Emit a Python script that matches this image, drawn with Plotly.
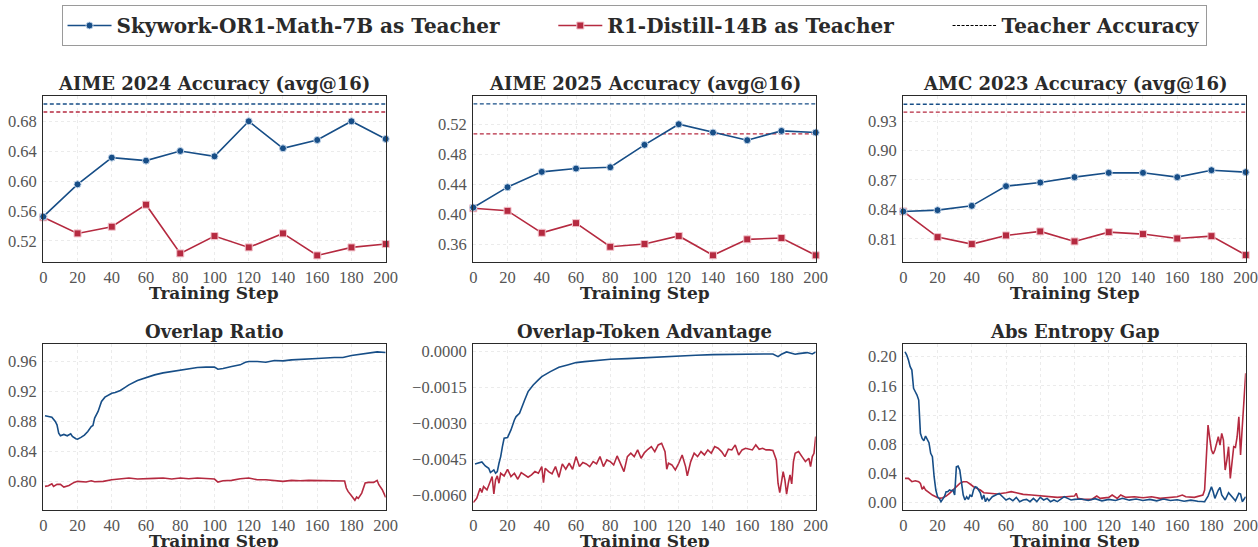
import plotly.graph_objects as go

# ---------------- data ----------------
acc_steps = [0, 20, 40, 60, 80, 100, 120, 140, 160, 180, 200]

aime24_sky = [0.5525, 0.5957, 0.6314, 0.6274, 0.6403, 0.6332, 0.6800, 0.6439, 0.6550, 0.6800, 0.6564]
aime24_r1 = [0.5516, 0.5301, 0.5391, 0.5685, 0.5034, 0.5266, 0.5114, 0.5301, 0.5007, 0.5114, 0.5159]
aime24_teacher = [0.7031, 0.6924]

aime25_sky = [0.4090, 0.4361, 0.4565, 0.4609, 0.4627, 0.4925, 0.5200, 0.5089, 0.4987, 0.5111, 0.5089]
aime25_r1 = [0.4080, 0.4046, 0.3753, 0.3882, 0.3567, 0.3604, 0.3711, 0.3453, 0.3666, 0.3684, 0.3453]
aime25_teacher = [0.5471, 0.5071]

amc23_sky = [0.8379, 0.8392, 0.8436, 0.8637, 0.8674, 0.8729, 0.8773, 0.8773, 0.8729, 0.8800, 0.8780]
amc23_r1 = [0.8379, 0.8117, 0.8046, 0.8134, 0.8175, 0.8073, 0.8168, 0.8148, 0.8103, 0.8127, 0.7934]
amc23_teacher = [0.9473, 0.9392]

ov_sky_steps = [1, 3, 5, 7, 8, 9, 10, 12, 14, 16, 17, 19, 20, 22, 24, 26, 28, 29, 30, 32, 34, 36, 38, 40,
                42, 45, 48, 50, 55, 60, 65, 70, 75, 80, 85, 90, 95, 100, 102, 105, 110, 115, 118, 120,
                125, 130, 135, 140, 145, 150, 160, 170, 175, 180, 185, 190, 195, 200]
ov_sky = [0.8876, 0.8867, 0.8858, 0.8801, 0.8756, 0.8645, 0.8610, 0.8628, 0.8610, 0.8637, 0.8601, 0.8570,
          0.8565, 0.8588, 0.8619, 0.8668, 0.8734, 0.8748, 0.8845, 0.8934, 0.9067, 0.9125, 0.9156, 0.9178,
          0.9187, 0.9214, 0.9258, 0.9289, 0.9347, 0.9387, 0.9422, 0.9449, 0.9467, 0.9489, 0.9502, 0.9520,
          0.9525, 0.9525, 0.9498, 0.9507, 0.9533, 0.9556, 0.9591, 0.9600, 0.9600, 0.9591, 0.9613, 0.9609,
          0.9622, 0.9631, 0.9640, 0.9653, 0.9653, 0.9680, 0.9693, 0.9711, 0.9729, 0.9720]

ov_r1_steps = [1, 3, 5, 6, 8, 10, 12, 15, 18, 20, 25, 28, 30, 35, 40, 45, 50, 55, 60, 65, 70, 75, 80, 85,
               90, 95, 100, 102, 105, 110, 115, 120, 125, 130, 135, 140, 145, 150, 155, 160, 165, 170,
               176, 177, 178, 180, 182, 183, 184, 186, 188, 190, 193, 195, 196, 198, 200]
ov_r1 = [0.7935, 0.7944, 0.7970, 0.7935, 0.7962, 0.7962, 0.7926, 0.7948, 0.7988, 0.8002, 0.7993, 0.8010,
         0.7997, 0.8002, 0.8024, 0.8033, 0.8046, 0.8033, 0.8033, 0.8042, 0.8046, 0.8033, 0.8046, 0.8037,
         0.8046, 0.8037, 0.8033, 0.7993, 0.8010, 0.8015, 0.8037, 0.8046, 0.8024, 0.8024, 0.8010, 0.8002,
         0.8015, 0.8010, 0.8015, 0.8015, 0.8006, 0.8006, 0.8006, 0.7913, 0.7868, 0.7811, 0.7749, 0.7793,
         0.7775, 0.7846, 0.7980, 0.7988, 0.7988, 0.8015, 0.7957, 0.7891, 0.7788]

adv_sky_steps = [1, 3, 5, 7, 9, 10, 12, 13, 14, 15, 16, 17, 18, 20, 22, 24, 25, 27, 28, 30, 32, 35, 38, 40,
                 45, 50, 55, 60, 65, 70, 80, 90, 100, 110, 120, 130, 140, 150, 160, 170, 175, 178, 180,
                 183, 185, 188, 190, 195, 198, 200]
adv_sky = [-0.004684, -0.004656, -0.004601, -0.004767, -0.004864, -0.005044, -0.004933, -0.005072,
           -0.005002, -0.004656, -0.004379, -0.003963, -0.003617, -0.003589, -0.003270, -0.002855,
           -0.002716, -0.002577, -0.002370, -0.002023, -0.001677, -0.001400, -0.001192, -0.001053,
           -0.000845, -0.000665, -0.000568, -0.000471, -0.000430, -0.000388, -0.000333, -0.000305,
           -0.000263, -0.000222, -0.000194, -0.000166, -0.000139, -0.000125, -0.000125, -0.000111,
           -0.000111, -0.000222, -0.000125, -0.000028, -0.000055, -0.000125, -0.000097, -0.000055,
           -0.000111, -0.000028]

adv_r1_steps = [0, 2, 3, 4, 5, 6, 8, 10, 11, 12, 13, 14, 15, 16, 18, 20, 22, 24, 26, 28, 30, 32, 34, 36,
                38, 40, 41, 42, 44, 46, 48, 50, 52, 54, 56, 58, 60, 62, 64, 66, 68, 70, 72, 74, 76, 78,
                80, 82, 84, 86, 88, 90, 92, 94, 96, 98, 100, 102, 104, 106, 108, 110, 112, 113, 114, 116,
                118, 120, 122, 124, 125, 127, 129, 131, 133, 135, 137, 139, 141, 143, 145, 147, 149, 151,
                153, 155, 157, 159, 161, 163, 165, 167, 169, 171, 173, 175, 177, 178, 179, 180, 181, 182,
                183, 184, 185, 186, 187, 188, 190, 192, 194, 196, 197, 198, 199, 200]
adv_r1 = [-0.006291, -0.006111, -0.005903, -0.005695, -0.005875, -0.005626, -0.005765, -0.005418,
          -0.005210, -0.005931, -0.005349, -0.005183, -0.005487, -0.005072, -0.005183, -0.004905,
          -0.005210, -0.005072, -0.005321, -0.005044, -0.005141, -0.005238, -0.005141, -0.005002,
          -0.005072, -0.004795, -0.005460, -0.004864, -0.005002, -0.005099, -0.004795, -0.005238,
          -0.004684, -0.004905, -0.004656, -0.004905, -0.004379, -0.004795, -0.004628, -0.004684,
          -0.004795, -0.004587, -0.004684, -0.004379, -0.004795, -0.004517, -0.004587, -0.004725,
          -0.004351, -0.004656, -0.005002, -0.004379, -0.004240, -0.004379, -0.004102, -0.004448,
          -0.004213, -0.004074, -0.003963, -0.004171, -0.003894, -0.003825, -0.004171, -0.004905,
          -0.004656, -0.004725, -0.004933, -0.004656, -0.004310, -0.004795, -0.005183, -0.004587,
          -0.004240, -0.004379, -0.004171, -0.004310, -0.004102, -0.004240, -0.003963, -0.004032,
          -0.004171, -0.004379, -0.004074, -0.004102, -0.003894, -0.004310, -0.004102, -0.004032,
          -0.004074, -0.004102, -0.003894, -0.004074, -0.004032, -0.004102, -0.004102, -0.004129,
          -0.004517, -0.005487, -0.005875, -0.005487, -0.005002, -0.005349, -0.005945, -0.005487,
          -0.005141, -0.005515, -0.004587, -0.004240, -0.004171, -0.004379, -0.004587, -0.004448,
          -0.004795, -0.004379, -0.004240, -0.003547]

ent_sky_steps = [1, 2, 3, 4, 5, 6, 7, 8, 9, 10, 11, 12, 13, 14, 15, 16, 17, 18, 19, 20, 21, 22, 23, 24,
                 25, 26, 27, 28, 29, 30, 31, 32, 33, 34, 35, 36, 37, 38, 39, 40, 41, 42, 43, 44, 45, 46,
                 47, 48, 49, 50, 52, 54, 56, 58, 60, 62, 64, 66, 68, 70, 72, 74, 76, 78, 80, 82, 84, 86,
                 88, 90, 92, 94, 96, 98, 100, 104, 108, 112, 116, 120, 124, 128, 132, 136, 140, 144, 148,
                 152, 156, 160, 164, 168, 172, 176, 178, 180, 181, 182, 184, 185, 186, 188, 190, 192, 194,
                 196, 197, 198, 199, 200]
ent_sky = [0.2068, 0.2023, 0.1954, 0.1863, 0.1817, 0.1566, 0.1520, 0.1475, 0.1406, 0.0950, 0.0881, 0.0849,
           0.0913, 0.0858, 0.0822, 0.0676, 0.0630, 0.0356, 0.0174, 0.0082, 0.0059, 0.0014, 0.0046, 0.0082,
           0.0151, 0.0151, 0.0174, 0.0164, 0.0174, 0.0105, 0.0493, 0.0502, 0.0447, 0.0242, 0.0105, 0.0037,
           0.0082, 0.0046, 0.0105, 0.0082, 0.0174, 0.0219, 0.0210, 0.0174, 0.0137, 0.0046, 0.0105, 0.0014,
           0.0059, 0.0027, 0.0082, 0.0105, 0.0128, 0.0082, 0.0037, 0.0059, 0.0027, 0.0073, 0.0014, 0.0037,
           0.0046, 0.0014, 0.0059, 0.0014, 0.0073, 0.0037, 0.0059, 0.0014, 0.0037, 0.0014, 0.0046, 0.0082,
           0.0059, 0.0037, 0.0046, 0.0050, 0.0030, 0.0055, 0.0025, 0.0045, 0.0030, 0.0060, 0.0035, 0.0050,
           0.0030, 0.0045, 0.0025, 0.0050, 0.0030, 0.0040, 0.0020, 0.0035, 0.0020, 0.0014, 0.0091, 0.0219,
           0.0151, 0.0059, 0.0174, 0.0210, 0.0105, 0.0037, 0.0137, 0.0082, 0.0027, 0.0128, 0.0119, 0.0014,
           0.0059, 0.0082]

ent_r1_steps = [1, 3, 5, 7, 9, 10, 11, 12, 13, 15, 17, 19, 21, 23, 25, 27, 29, 31, 33, 35, 37, 39, 41, 43,
                45, 47, 50, 55, 60, 63, 66, 70, 75, 80, 85, 90, 95, 100, 101, 102, 105, 110, 113, 115,
                120, 122, 125, 127, 130, 135, 140, 145, 150, 155, 160, 163, 165, 170, 174, 175, 176, 177,
                178, 179, 180, 181, 182, 183, 184, 185, 186, 187, 188, 189, 190, 191, 192, 193, 194, 195,
                196, 197, 198, 199, 200]
ent_r1 = [0.0333, 0.0333, 0.0288, 0.0301, 0.0288, 0.0265, 0.0183, 0.0219, 0.0174, 0.0137, 0.0105, 0.0082,
          0.0059, 0.0068, 0.0091, 0.0128, 0.0174, 0.0219, 0.0265, 0.0288, 0.0288, 0.0256, 0.0219, 0.0196,
          0.0174, 0.0137, 0.0128, 0.0119, 0.0137, 0.0151, 0.0137, 0.0114, 0.0105, 0.0096, 0.0082, 0.0073,
          0.0082, 0.0091, 0.0128, 0.0059, 0.0046, 0.0046, 0.0091, 0.0059, 0.0073, 0.0105, 0.0059, 0.0105,
          0.0073, 0.0082, 0.0068, 0.0082, 0.0059, 0.0073, 0.0082, 0.0105, 0.0082, 0.0073, 0.0091, 0.0105,
          0.0174, 0.0721, 0.1064, 0.0881, 0.0721, 0.0667, 0.0721, 0.0813, 0.0904, 0.0790, 0.0950, 0.0858,
          0.0447, 0.0584, 0.0767, 0.0333, 0.0539, 0.0767, 0.0758, 0.0904, 0.1178, 0.0653, 0.1041, 0.1498,
          0.1772]

titles = ["AIME 2024 Accuracy (avg@16)", "AIME 2025 Accuracy (avg@16)", "AMC 2023 Accuracy (avg@16)",
          "Overlap Ratio", "Overlap-Token Advantage", "Abs Entropy Gap"]
x_title = "Training Step"
x_ticks = [0, 20, 40, 60, 80, 100, 120, 140, 160, 180, 200]
legend_names = ["Skywork-OR1-Math-7B as Teacher", "R1-Distill-14B as Teacher", "Teacher Accuracy"]

# ---------------- style ----------------
BLUE = "#174e87"
RED = "#b52a40"
W, H = 1258, 547
TICKFONT = dict(family="Liberation Serif", size=16.5, color="#555555")
BOLDFONT = "DejaVu Serif"
PAD = "\u00a0" * 7

x_dom = [[43.3 / W, 385.7 / W], [473.3 / W, 815.7 / W], [903.3 / W, 1245.7 / W]]
y_dom = [[(H - 262.3) / H, (H - 95.7) / H], [(H - 510) / H, (H - 344.3) / H]]
xtitle_y = [(H - 293) / H, (H - 541) / H]

fig = go.Figure()

panels = [
    dict(kind="acc", sky=aime24_sky, r1=aime24_r1, teach=aime24_teacher, yr=[0.4915, 0.7142],
         tv=[0.52, 0.56, 0.60, 0.64, 0.68], fmt=".2f"),
    dict(kind="acc", sky=aime25_sky, r1=aime25_r1, teach=aime25_teacher, yr=[0.336, 0.558],
         tv=[0.36, 0.40, 0.44, 0.48, 0.52], fmt=".2f"),
    dict(kind="acc", sky=amc23_sky, r1=amc23_r1, teach=amc23_teacher, yr=[0.786, 0.956],
         tv=[0.81, 0.84, 0.87, 0.90, 0.93], fmt=".2f"),
    dict(kind="line", sx=ov_sky_steps, sky=ov_sky, rx=ov_r1_steps, r1=ov_r1, yr=[0.762, 0.983],
         tv=[0.80, 0.84, 0.88, 0.92, 0.96], fmt=".2f"),
    dict(kind="line", sx=adv_sky_steps, sky=adv_sky, rx=adv_r1_steps, r1=adv_r1, yr=[-0.0066, 0.00029],
         tv=[-0.006, -0.0045, -0.003, -0.0015, 0.0], fmt=".4f"),
    dict(kind="line", sx=ent_sky_steps, sky=ent_sky, rx=ent_r1_steps, r1=ent_r1, yr=[-0.01, 0.217],
         tv=[0.0, 0.04, 0.08, 0.12, 0.16, 0.20], fmt=".2f"),
]

for i, p in enumerate(panels):
    n = i + 1
    xa = "x" if n == 1 else f"x{n}"
    ya = "y" if n == 1 else f"y{n}"
    row = 0 if i < 3 else 1
    col = i % 3
    if p["kind"] == "acc":
        fig.add_trace(go.Scatter(x=[acc_steps[0], acc_steps[-1]], y=[p["teach"][0]] * 2, mode="lines",
                                 line=dict(color=BLUE, width=1.3, dash="4px,2.5px"), showlegend=False,
                                 hoverinfo="skip", xaxis=xa, yaxis=ya))
        fig.add_trace(go.Scatter(x=[acc_steps[0], acc_steps[-1]], y=[p["teach"][1]] * 2, mode="lines",
                                 line=dict(color=RED, width=1.3, dash="4px,2.5px"), showlegend=False,
                                 hoverinfo="skip", xaxis=xa, yaxis=ya))
        fig.add_trace(go.Scatter(x=acc_steps, y=p["r1"], mode="lines+markers", name=legend_names[1] + PAD,
                                 line=dict(color=RED, width=1.6),
                                 marker=dict(symbol="square", size=7, color=RED,
                                             line=dict(color="#f2c4cc", width=1)),
                                 showlegend=(i == 0), legendrank=2, xaxis=xa, yaxis=ya, cliponaxis=False))
        fig.add_trace(go.Scatter(x=acc_steps, y=p["sky"], mode="lines+markers", name=legend_names[0] + PAD,
                                 line=dict(color=BLUE, width=1.6),
                                 marker=dict(symbol="circle", size=7, color=BLUE,
                                             line=dict(color="#c4d6ea", width=1)),
                                 showlegend=(i == 0), legendrank=1, xaxis=xa, yaxis=ya, cliponaxis=False))
    else:
        fig.add_trace(go.Scatter(x=p["rx"], y=p["r1"], mode="lines", line=dict(color=RED, width=1.6),
                                 showlegend=False, xaxis=xa, yaxis=ya))
        fig.add_trace(go.Scatter(x=p["sx"], y=p["sky"], mode="lines", line=dict(color=BLUE, width=1.6),
                                 showlegend=False, xaxis=xa, yaxis=ya))

    axis_common = dict(showline=True, mirror=True, linecolor="#2a2a2a", linewidth=1.4,
                       showgrid=True, gridcolor="#ebebeb", griddash="dot", gridwidth=1,
                       zeroline=False, ticks="", tickfont=TICKFONT, automargin=False,
                       ticklabeloverflow="allow")
    fig.update_layout(**{
        ("xaxis" if n == 1 else f"xaxis{n}"): dict(
            domain=x_dom[col], anchor=ya, range=[0, 200], tickvals=x_ticks,
            ticklabelstandoff=0, **axis_common),
        ("yaxis" if n == 1 else f"yaxis{n}"): dict(
            domain=y_dom[row], anchor=xa, range=p["yr"], tickvals=p["tv"], tickformat=p["fmt"],
            ticklabelstandoff=2, **axis_common),
    })
    fig.add_annotation(text=titles[i], xref="paper", yref="paper",
                       x=(x_dom[col][0] + x_dom[col][1]) / 2, y=y_dom[row][1],
                       xanchor="center", yanchor="bottom", showarrow=False,
                       font=dict(family=BOLDFONT, size=18, color="#2a2a2a", weight="bold"))
    fig.add_annotation(text=x_title, xref="paper", yref="paper",
                       x=(x_dom[col][0] + x_dom[col][1]) / 2, y=xtitle_y[row],
                       xanchor="center", yanchor="middle", showarrow=False,
                       font=dict(family=BOLDFONT, size=17, color="#2a2a2a", weight="bold"))

# legend-only entry for teacher accuracy
fig.add_trace(go.Scatter(x=[None], y=[None], mode="lines", name=legend_names[2],
                         line=dict(color="black", width=1.2, dash="3px,1.5px"), legendrank=3,
                         showlegend=True))

fig.update_layout(
    width=W, height=H, margin=dict(l=0, r=0, t=0, b=0),
    paper_bgcolor="white", plot_bgcolor="white",
    legend=dict(orientation="h", x=0.504, xanchor="center", y=1 - 5 / H, yanchor="top",
                bgcolor="white", bordercolor="#9a9a9a", borderwidth=1,
                font=dict(family=BOLDFONT, size=20, color="#2a2a2a", weight="bold"),
                itemwidth=44, traceorder="normal"),
)

fig.write_html("out.html", config={"displayModeBar": False},
               post_script="document.body.style.margin='0px';")
